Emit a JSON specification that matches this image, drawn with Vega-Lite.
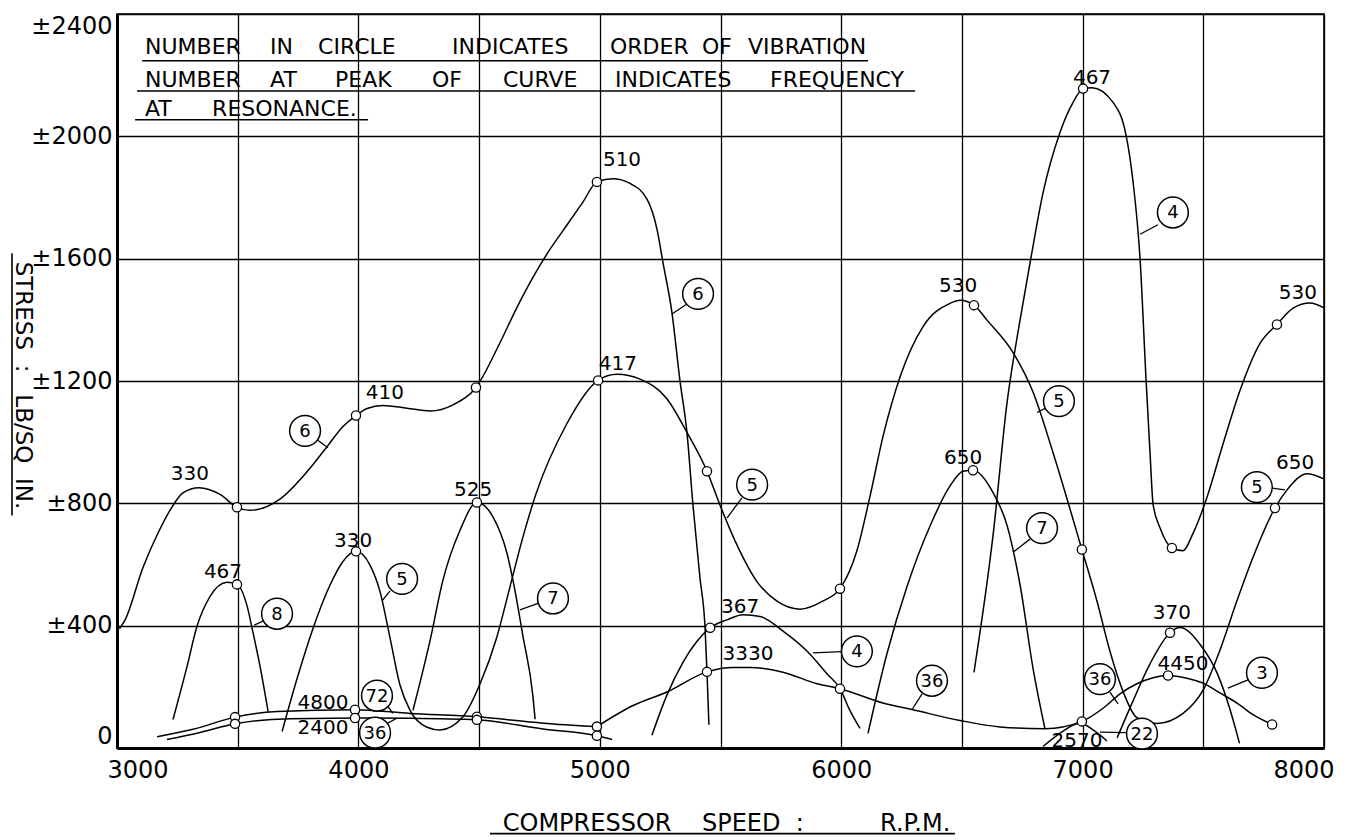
{
  "$schema": "https://vega.github.io/schema/vega-lite/v6.json",
  "width": 1207,
  "height": 734,
  "autosize": {"type": "none"},
  "padding": {"left": 117, "top": 14, "right": 26, "bottom": 92},
  "background": "white",
  "config": {
    "view": {"stroke": "black", "strokeWidth": 1.6},
    "font": "DejaVu Sans",
    "axis": {
      "domainColor": "black", "domainWidth": 3,
      "gridColor": "black", "gridOpacity": 1, "gridWidth": 1.3,
      "tickSize": 0, "labelColor": "black", "labelFont": "DejaVu Sans", "labelFontSize": 24,
      "labelOverlap": false,
      "titleColor": "black", "titleFont": "DejaVu Sans", "titleFontWeight": "normal"
    }
  },
  "datasets": {
    "curves": [
      {"curve":"o6","rpm":3010,"stress":390},{"curve":"o6","rpm":3033,"stress":418},{"curve":"o6","rpm":3108,"stress":591},{"curve":"o6","rpm":3170,"stress":703},{"curve":"o6","rpm":3228,"stress":788},{"curve":"o6","rpm":3273,"stress":834},{"curve":"o6","rpm":3340,"stress":851},{"curve":"o6","rpm":3427,"stress":829},{"curve":"o6","rpm":3497,"stress":787},{"curve":"o6","rpm":3551,"stress":777},{"curve":"o6","rpm":3675,"stress":814},{"curve":"o6","rpm":3787,"stress":903},{"curve":"o6","rpm":3870,"stress":985},{"curve":"o6","rpm":3936,"stress":1051},{"curve":"o6","rpm":3990,"stress":1087},{"curve":"o6","rpm":4036,"stress":1110},{"curve":"o6","rpm":4102,"stress":1120},{"curve":"o6","rpm":4201,"stress":1111},{"curve":"o6","rpm":4297,"stress":1102},{"curve":"o6","rpm":4392,"stress":1122},{"curve":"o6","rpm":4487,"stress":1179},{"curve":"o6","rpm":4587,"stress":1326},{"curve":"o6","rpm":4657,"stress":1441},{"curve":"o6","rpm":4723,"stress":1539},{"curve":"o6","rpm":4794,"stress":1631},{"curve":"o6","rpm":4864,"stress":1710},{"curve":"o6","rpm":4930,"stress":1785},{"curve":"o6","rpm":4988,"stress":1851},{"curve":"o6","rpm":5055,"stress":1861},{"curve":"o6","rpm":5125,"stress":1846},{"curve":"o6","rpm":5196,"stress":1794},{"curve":"o6","rpm":5237,"stress":1696},{"curve":"o6","rpm":5262,"stress":1586},{"curve":"o6","rpm":5299,"stress":1423},{"curve":"o6","rpm":5332,"stress":1201},{"curve":"o6","rpm":5361,"stress":1032},{"curve":"o6","rpm":5386,"stress":794},{"curve":"o6","rpm":5415,"stress":556},{"curve":"o6","rpm":5436,"stress":393},{"curve":"o6","rpm":5444,"stress":249},{"curve":"o6","rpm":5452,"stress":76},
      {"curve":"o8","rpm":3232,"stress":93},{"curve":"o8","rpm":3290,"stress":266},{"curve":"o8","rpm":3331,"stress":397},{"curve":"o8","rpm":3385,"stress":495},{"curve":"o8","rpm":3456,"stress":542},{"curve":"o8","rpm":3497,"stress":535},{"curve":"o8","rpm":3539,"stress":464},{"curve":"o8","rpm":3563,"stress":379},{"curve":"o8","rpm":3592,"stress":269},{"curve":"o8","rpm":3626,"stress":119},
      {"curve":"o5","rpm":3684,"stress":54},{"curve":"o5","rpm":3746,"stress":227},{"curve":"o5","rpm":3812,"stress":391},{"curve":"o5","rpm":3882,"stress":532},{"curve":"o5","rpm":3936,"stress":610},{"curve":"o5","rpm":3990,"stress":643},{"curve":"o5","rpm":4048,"stress":598},{"curve":"o5","rpm":4089,"stress":513},{"curve":"o5","rpm":4131,"stress":360},{"curve":"o5","rpm":4172,"stress":207},{"curve":"o5","rpm":4214,"stress":123},{"curve":"o5","rpm":4284,"stress":68},{"curve":"o5","rpm":4338,"stress":59},{"curve":"o5","rpm":4433,"stress":102},{"curve":"o5","rpm":4504,"stress":210},{"curve":"o5","rpm":4574,"stress":364},{"curve":"o5","rpm":4628,"stress":527},{"curve":"o5","rpm":4682,"stress":691},{"curve":"o5","rpm":4732,"stress":822},{"curve":"o5","rpm":4864,"stress":1061},{"curve":"o5","rpm":4993,"stress":1202},{"curve":"o5","rpm":5071,"stress":1222},{"curve":"o5","rpm":5167,"stress":1206},{"curve":"o5","rpm":5278,"stress":1142},{"curve":"o5","rpm":5361,"stress":1032},{"curve":"o5","rpm":5444,"stress":905},{"curve":"o5","rpm":5498,"stress":794},{"curve":"o5","rpm":5568,"stress":664},{"curve":"o5","rpm":5651,"stress":544},{"curve":"o5","rpm":5734,"stress":480},{"curve":"o5","rpm":5829,"stress":454},{"curve":"o5","rpm":5925,"stress":481},{"curve":"o5","rpm":5995,"stress":521},{"curve":"o5","rpm":6065,"stress":645},{"curve":"o5","rpm":6119,"stress":822},{"curve":"o5","rpm":6173,"stress":1018},{"curve":"o5","rpm":6244,"stress":1214},{"curve":"o5","rpm":6339,"stress":1378},{"curve":"o5","rpm":6451,"stress":1454},{"curve":"o5","rpm":6492,"stress":1464},{"curve":"o5","rpm":6550,"stress":1448},{"curve":"o5","rpm":6604,"stress":1399},{"curve":"o5","rpm":6712,"stress":1293},{"curve":"o5","rpm":6795,"stress":1163},{"curve":"o5","rpm":6877,"stress":967},{"curve":"o5","rpm":6960,"stress":749},{"curve":"o5","rpm":6997,"stress":649},{"curve":"o5","rpm":7060,"stress":479},{"curve":"o5","rpm":7113,"stress":317},{"curve":"o5","rpm":7167,"stress":186},{"curve":"o5","rpm":7225,"stress":99},{"curve":"o5","rpm":7308,"stress":80},{"curve":"o5","rpm":7416,"stress":113},{"curve":"o5","rpm":7499,"stress":189},{"curve":"o5","rpm":7569,"stress":320},{"curve":"o5","rpm":7640,"stress":483},{"curve":"o5","rpm":7706,"stress":624},{"curve":"o5","rpm":7797,"stress":785},{"curve":"o5","rpm":7847,"stress":844},{"curve":"o5","rpm":7930,"stress":897},{"curve":"o5","rpm":8000,"stress":880},
      {"curve":"o7a","rpm":4226,"stress":123},{"curve":"o7a","rpm":4297,"stress":352},{"curve":"o7a","rpm":4350,"stress":548},{"curve":"o7a","rpm":4421,"stress":712},{"curve":"o7a","rpm":4491,"stress":803},{"curve":"o7a","rpm":4558,"stress":755},{"curve":"o7a","rpm":4616,"stress":635},{"curve":"o7a","rpm":4640,"stress":550},{"curve":"o7a","rpm":4682,"stress":364},{"curve":"o7a","rpm":4723,"stress":169},{"curve":"o7a","rpm":4732,"stress":94},
      {"curve":"o7b","rpm":6111,"stress":48},{"curve":"o7b","rpm":6190,"stress":310},{"curve":"o7b","rpm":6273,"stress":529},{"curve":"o7b","rpm":6368,"stress":726},{"curve":"o7b","rpm":6451,"stress":857},{"curve":"o7b","rpm":6505,"stress":905},{"curve":"o7b","rpm":6546,"stress":908},{"curve":"o7b","rpm":6629,"stress":835},{"curve":"o7b","rpm":6687,"stress":728},{"curve":"o7b","rpm":6741,"stress":533},{"curve":"o7b","rpm":6795,"stress":259},{"curve":"o7b","rpm":6844,"stress":63},
      {"curve":"o4a","rpm":5216,"stress":42},{"curve":"o4a","rpm":5278,"stress":173},{"curve":"o4a","rpm":5345,"stress":281},{"curve":"o4a","rpm":5457,"stress":393},{"curve":"o4a","rpm":5527,"stress":419},{"curve":"o4a","rpm":5593,"stress":436},{"curve":"o4a","rpm":5664,"stress":430},{"curve":"o4a","rpm":5759,"stress":382},{"curve":"o4a","rpm":5858,"stress":317},{"curve":"o4a","rpm":5941,"stress":243},{"curve":"o4a","rpm":5995,"stress":194},{"curve":"o4a","rpm":6036,"stress":123},{"curve":"o4a","rpm":6078,"stress":64},
      {"curve":"o36","rpm":4988,"stress":70},{"curve":"o36","rpm":5138,"stress":139},{"curve":"o36","rpm":5278,"stress":183},{"curve":"o36","rpm":5444,"stress":249},{"curve":"o36","rpm":5552,"stress":263},{"curve":"o36","rpm":5622,"stress":263},{"curve":"o36","rpm":5759,"stress":248},{"curve":"o36","rpm":5900,"stress":210},{"curve":"o36","rpm":5995,"stress":194},{"curve":"o36","rpm":6173,"stress":147},{"curve":"o36","rpm":6297,"stress":125},{"curve":"o36","rpm":6492,"stress":90},{"curve":"o36","rpm":6658,"stress":69},{"curve":"o36","rpm":6844,"stress":63},{"curve":"o36","rpm":6997,"stress":87},{"curve":"o36","rpm":7085,"stress":130},{"curve":"o36","rpm":7155,"stress":177},{"curve":"o36","rpm":7225,"stress":210},{"curve":"o36","rpm":7292,"stress":230},{"curve":"o36","rpm":7354,"stress":237},{"curve":"o36","rpm":7432,"stress":228},{"curve":"o36","rpm":7499,"stress":212},{"curve":"o36","rpm":7569,"stress":180},{"curve":"o36","rpm":7640,"stress":147},{"curve":"o36","rpm":7706,"stress":109},{"curve":"o36","rpm":7785,"stress":77},
      {"curve":"o4b","rpm":6550,"stress":247},{"curve":"o4b","rpm":6629,"stress":695},{"curve":"o4b","rpm":6687,"stress":1129},{"curve":"o4b","rpm":6741,"stress":1400},{"curve":"o4b","rpm":6786,"stress":1603},{"curve":"o4b","rpm":6836,"stress":1815},{"curve":"o4b","rpm":6906,"stress":2012},{"curve":"o4b","rpm":6960,"stress":2110},{"curve":"o4b","rpm":7002,"stress":2156},{"curve":"o4b","rpm":7039,"stress":2159},{"curve":"o4b","rpm":7126,"stress":2111},{"curve":"o4b","rpm":7180,"stress":2004},{"curve":"o4b","rpm":7209,"stress":1851},{"curve":"o4b","rpm":7238,"stress":1600},{"curve":"o4b","rpm":7263,"stress":1202},{"curve":"o4b","rpm":7279,"stress":970},{"curve":"o4b","rpm":7292,"stress":797},{"curve":"o4b","rpm":7321,"stress":719},{"curve":"o4b","rpm":7370,"stress":654},{"curve":"o4b","rpm":7416,"stress":645},{"curve":"o4b","rpm":7457,"stress":701},{"curve":"o4b","rpm":7515,"stress":819},{"curve":"o4b","rpm":7582,"stress":995},{"curve":"o4b","rpm":7652,"stress":1169},{"curve":"o4b","rpm":7735,"stress":1323},{"curve":"o4b","rpm":7805,"stress":1385},{"curve":"o4b","rpm":7872,"stress":1438},{"curve":"o4b","rpm":7942,"stress":1455},{"curve":"o4b","rpm":8000,"stress":1439},
      {"curve":"o3","rpm":7143,"stress":33},{"curve":"o3","rpm":7209,"stress":154},{"curve":"o3","rpm":7279,"stress":275},{"curve":"o3","rpm":7362,"stress":377},{"curve":"o3","rpm":7403,"stress":394},{"curve":"o3","rpm":7490,"stress":335},{"curve":"o3","rpm":7560,"stress":240},{"curve":"o3","rpm":7611,"stress":125},{"curve":"o3","rpm":7650,"stress":15},
      {"curve":"o72","rpm":3166,"stress":37},{"curve":"o72","rpm":3315,"stress":61},{"curve":"o72","rpm":3489,"stress":101},{"curve":"o72","rpm":3663,"stress":119},{"curve":"o72","rpm":3986,"stress":125},{"curve":"o72","rpm":4214,"stress":113},{"curve":"o72","rpm":4491,"stress":102},{"curve":"o72","rpm":4765,"stress":81},{"curve":"o72","rpm":4988,"stress":70},
      {"curve":"o36low","rpm":3207,"stress":28},{"curve":"o36low","rpm":3344,"stress":51},{"curve":"o36low","rpm":3489,"stress":79},{"curve":"o36low","rpm":3717,"stress":96},{"curve":"o36low","rpm":3986,"stress":98},{"curve":"o36low","rpm":4214,"stress":97},{"curve":"o36low","rpm":4491,"stress":92},{"curve":"o36low","rpm":4765,"stress":62},{"curve":"o36low","rpm":4988,"stress":40},{"curve":"o36low","rpm":5051,"stress":28},
      {"curve":"o22","rpm":6836,"stress":5},{"curve":"o22","rpm":6906,"stress":48},{"curve":"o22","rpm":6989,"stress":81},{"curve":"o22","rpm":7051,"stress":55},{"curve":"o22","rpm":7101,"stress":23}
    ],
    "markers": [
      {"rpm":3497,"stress":787},{"rpm":3990,"stress":1087},{"rpm":4487,"stress":1179},{"rpm":4988,"stress":1851},
      {"rpm":3497,"stress":535},
      {"rpm":3990,"stress":643},{"rpm":4993,"stress":1202},{"rpm":5444,"stress":905},{"rpm":5995,"stress":521},{"rpm":6550,"stress":1448},{"rpm":6997,"stress":649},{"rpm":7797,"stress":785},
      {"rpm":4491,"stress":803},{"rpm":6546,"stress":908},
      {"rpm":5457,"stress":393},{"rpm":5995,"stress":194},
      {"rpm":4988,"stress":70},{"rpm":5444,"stress":249},{"rpm":6997,"stress":87},{"rpm":7354,"stress":237},{"rpm":7785,"stress":77},
      {"rpm":7002,"stress":2156},{"rpm":7370,"stress":654},{"rpm":7805,"stress":1385},
      {"rpm":7362,"stress":377},
      {"rpm":3489,"stress":101},{"rpm":3986,"stress":125},{"rpm":4491,"stress":102},
      {"rpm":3489,"stress":79},{"rpm":3986,"stress":98},{"rpm":4491,"stress":92},{"rpm":4988,"stress":40}
    ],
    "frequencies": [
      {"label":"330","rpm":3302,"stress":896},{"label":"467","rpm":3439,"stress":574},{"label":"410","rpm":4110,"stress":1160},
      {"label":"330","rpm":3978,"stress":676},{"label":"525","rpm":4475,"stress":843},{"label":"510","rpm":5092,"stress":1924},
      {"label":"417","rpm":5075,"stress":1255},{"label":"367","rpm":5581,"stress":462},{"label":"3330","rpm":5614,"stress":306},
      {"label":"4800","rpm":3853,"stress":146},{"label":"2400","rpm":3853,"stress":65},{"label":"530","rpm":6484,"stress":1509},
      {"label":"650","rpm":6505,"stress":948},{"label":"467","rpm":7039,"stress":2192},{"label":"530","rpm":7892,"stress":1487},
      {"label":"650","rpm":7880,"stress":932},{"label":"370","rpm":7370,"stress":442},{"label":"4450","rpm":7416,"stress":276},
      {"label":"2570","rpm":6977,"stress":22}
    ],
    "orders": [
      {"label":"6","rpm":3779,"stress":1037},{"label":"8","rpm":3663,"stress":439},{"label":"5","rpm":4181,"stress":553},
      {"label":"7","rpm":4806,"stress":489},{"label":"6","rpm":5407,"stress":1485},{"label":"5","rpm":5631,"stress":861},
      {"label":"4","rpm":6065,"stress":316},{"label":"36","rpm":6376,"stress":220},{"label":"72","rpm":4077,"stress":171},
      {"label":"36","rpm":4069,"stress":50},{"label":"5","rpm":6902,"stress":1134},{"label":"7","rpm":6832,"stress":719},
      {"label":"4","rpm":7374,"stress":1751},{"label":"36","rpm":7072,"stress":225},{"label":"22","rpm":7246,"stress":47},
      {"label":"3","rpm":7743,"stress":246},{"label":"5","rpm":7722,"stress":853}
    ],
    "leaders": [
      {"rpm":3829,"stress":1008,"rpm2":3874,"stress2":982},{"rpm":3605,"stress":415,"rpm2":3568,"stress2":402},
      {"rpm":4131,"stress":514,"rpm2":4098,"stress2":481},{"rpm":4744,"stress":473,"rpm2":4669,"stress2":452},
      {"rpm":5361,"stress":1452,"rpm2":5299,"stress2":1419},{"rpm":5589,"stress":818,"rpm2":5527,"stress2":752},
      {"rpm":6003,"stress":315,"rpm2":5883,"stress2":311},{"rpm":6335,"stress":177,"rpm2":6293,"stress2":125},
      {"rpm":4123,"stress":135,"rpm2":4143,"stress2":113},{"rpm":4119,"stress":80,"rpm2":4156,"stress2":96},
      {"rpm":6853,"stress":1114,"rpm2":6811,"stress2":1097},{"rpm":6782,"stress":683,"rpm2":6712,"stress2":640},
      {"rpm":7312,"stress":1711,"rpm2":7238,"stress2":1680},{"rpm":7113,"stress":183,"rpm2":7147,"stress2":144},
      {"rpm":7184,"stress":50,"rpm2":7072,"stress2":52},{"rpm":7685,"stress":223,"rpm2":7602,"stress2":196},
      {"rpm":7785,"stress":850,"rpm2":7838,"stress2":844}
    ],
    "note": [
      {"label":"NUMBER","rpm":3116,"stress":2268},{"label":"IN","rpm":3634,"stress":2268},{"label":"CIRCLE","rpm":3833,"stress":2268},
      {"label":"INDICATES","rpm":4388,"stress":2268},{"label":"ORDER","rpm":5042,"stress":2268},{"label":"OF","rpm":5423,"stress":2268},
      {"label":"VIBRATION","rpm":5614,"stress":2268},
      {"label":"NUMBER","rpm":3116,"stress":2160},{"label":"AT","rpm":3634,"stress":2160},{"label":"PEAK","rpm":3903,"stress":2160},
      {"label":"OF","rpm":4305,"stress":2160},{"label":"CURVE","rpm":4599,"stress":2160},{"label":"INDICATES","rpm":5063,"stress":2160},
      {"label":"FREQUENCY","rpm":5705,"stress":2160},
      {"label":"AT","rpm":3116,"stress":2065},{"label":"RESONANCE.","rpm":3394,"stress":2065}
    ],
    "underlines": [
      {"rpm":3104,"stress":2247,"rpm2":6111,"stress2":2247},
      {"rpm":3083,"stress":2148,"rpm2":6306,"stress2":2148},
      {"rpm":3075,"stress":2054,"rpm2":4040,"stress2":2054},
      {"rpm":4545,"stress":-280,"rpm2":6471,"stress2":-280},
      {"rpm":2565,"stress":1618,"rpm2":2565,"stress2":760}
    ]
  },
  "encoding": {
    "x": {
      "field": "rpm", "type": "quantitative",
      "scale": {"domain": [3000, 8000], "nice": false, "zero": false},
      "axis": {
        "values": [3000, 3500, 4000, 4500, 5000, 5500, 6000, 6500, 7000, 7500, 8000],
        "labelExpr": "datum.value % 1000 === 0 ? '' + datum.value : ''",
        "labelPadding": 10, "labelFlush": true, "labelFlushOffset": 10,
        "title": "COMPRESSOR\u00a0\u00a0\u00a0\u00a0SPEED\u00a0\u00a0:\u00a0\u00a0\u00a0\u00a0\u00a0\u00a0\u00a0\u00a0\u00a0\u00a0R.P.M.",
        "titleFontSize": 24, "titleX": 609, "titleY": 82, "titleAlign": "center", "titleBaseline": "alphabetic"
      }
    },
    "y": {
      "field": "stress", "type": "quantitative",
      "scale": {"domain": [0, 2400], "nice": false, "zero": false},
      "axis": {
        "values": [0, 400, 800, 1200, 1600, 2000, 2400],
        "labelExpr": "datum.value === 0 ? '0' : '±' + datum.value",
        "labelPadding": 5, "labelFlush": true, "labelFlushOffset": 0,
        "title": "STRESS\u00a0\u00a0:\u00a0\u00a0\u00a0LB/SQ\u00a0\u00a0IN.",
        "titleFontSize": 23, "titleAngle": 90, "titleX": -95, "titleY": 371,
        "titleAlign": "center", "titleBaseline": "middle"
      }
    }
  },
  "layer": [
    {
      "data": {"name": "curves"},
      "mark": {"type": "line", "interpolate": "monotone", "color": "black", "strokeWidth": 1.5},
      "encoding": {"detail": {"field": "curve"}}
    },
    {
      "data": {"name": "markers"},
      "mark": {"type": "point", "shape": "circle", "size": 85, "filled": false, "fill": "white", "fillOpacity": 1, "stroke": "black", "strokeWidth": 1.3, "opacity": 1}
    },
    {
      "data": {"name": "leaders"},
      "mark": {"type": "rule", "color": "black", "strokeWidth": 1.3},
      "encoding": {"x2": {"field": "rpm2"}, "y2": {"field": "stress2"}}
    },
    {
      "data": {"name": "orders"},
      "mark": {"type": "point", "shape": "circle", "size": 950, "filled": false, "fill": "white", "fillOpacity": 1, "stroke": "black", "strokeWidth": 1.5, "opacity": 1}
    },
    {
      "data": {"name": "orders"},
      "mark": {"type": "text", "font": "DejaVu Sans", "fontSize": 18, "color": "black", "align": "center", "baseline": "middle", "dy": 1},
      "encoding": {"text": {"field": "label"}}
    },
    {
      "data": {"name": "frequencies"},
      "mark": {"type": "text", "font": "DejaVu Sans", "fontSize": 20, "color": "black", "align": "center", "baseline": "middle"},
      "encoding": {"text": {"field": "label"}}
    },
    {
      "data": {"name": "note"},
      "mark": {"type": "text", "font": "DejaVu Sans", "fontSize": 22, "color": "black", "align": "left", "baseline": "alphabetic"},
      "encoding": {"text": {"field": "label"}}
    },
    {
      "data": {"name": "underlines"},
      "mark": {"type": "rule", "color": "black", "strokeWidth": 1.6, "clip": false},
      "encoding": {"x2": {"field": "rpm2"}, "y2": {"field": "stress2"}}
    }
  ]
}
